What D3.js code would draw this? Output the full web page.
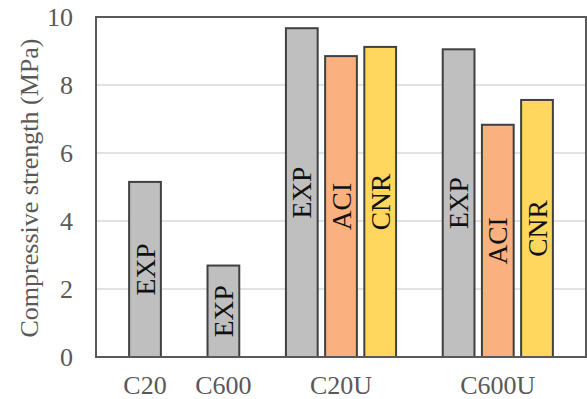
<!DOCTYPE html>
<meta charset="utf-8">
<style>
    body { margin: 0; background: #fff; }
    text { font-family: "Liberation Serif", "DejaVu Serif", serif; }
    .grid line { stroke: #d9d9d9; stroke-width: 1.5; }
    .tick-label { fill: #595959; font-size: 26px; }
    .bar-label { fill: #111; font-size: 27.5px; }
</style>
<svg width="587" height="399"></svg>
<script src="https://d3js.org/d3.v7.min.js"></script>
<script>

    // values
    var categories = ["C20", "C600", "C20U", "C600U"],
        series = ["EXP", "ACI", "CNR"],
        expValues = [5.15, 2.69, 9.67, 9.05],
        aciValues = [null, null, 8.85, 6.83],
        cnrValues = [null, null, 9.12, 7.56],
        yTicks = [0, 2, 4, 6, 8, 10];

    var colors = { EXP: "#bfbfbf", ACI: "#fbb07f", CNR: "#ffd75e" };
    var valuesBySeries = { EXP: expValues, ACI: aciValues, CNR: cnrValues };

    // lay bars out in slots, one empty slot between categories
    var bars = [], groups = [], slot = 0;
    categories.forEach(function (c, i) {
        var first = slot;
        series.forEach(function (s) {
            var v = valuesBySeries[s][i];
            if (v == null) return;
            bars.push({ category: c, series: s, value: v, slot: slot });
            slot++;
        });
        groups.push({ category: c, center: (first + slot - 1) / 2 });
        slot++;
    });
    var lastSlot = slot - 2;

    var svg = d3.select("svg"),
        margin = { top: 17, right: 1, bottom: 42, left: 96 },
        width = +svg.attr("width") - margin.left - margin.right,
        height = +svg.attr("height") - margin.top - margin.bottom,
        g = svg.append("g").attr("transform", "translate(" + margin.left + "," + margin.top + ")");

    var x = d3.scaleLinear()
        .domain([-1.25, lastSlot + 1.25])
        .range([0, width]);

    var y = d3.scaleLinear()
        .domain([0, 10])
        .range([height, 0]);

    var bw = x(0.81) - x(0);

    // gridlines
    g.append("g")
        .attr("class", "grid")
        .selectAll("line")
        .data(yTicks.filter(function (d) { return d > 0 && d < 10; }))
        .join("line")
        .attr("x1", 0).attr("x2", width)
        .attr("y1", y).attr("y2", y);

    // y tick labels
    g.append("g")
        .selectAll("text")
        .data(yTicks)
        .join("text")
        .attr("class", "tick-label")
        .attr("x", -23)
        .attr("y", y)
        .attr("dy", "0.35em")
        .attr("text-anchor", "end")
        .text(function (d) { return d; });

    // category labels
    g.append("g")
        .selectAll("text")
        .data(groups)
        .join("text")
        .attr("class", "tick-label")
        .attr("x", function (d) { return x(d.center); })
        .attr("y", height + 37)
        .attr("text-anchor", "middle")
        .text(function (d) { return d.category; });

    // bars
    g.append("g")
        .selectAll("rect")
        .data(bars)
        .join("rect")
        .attr("x", function (d) { return x(d.slot) - bw / 2; })
        .attr("y", function (d) { return y(d.value); })
        .attr("width", bw)
        .attr("height", function (d) { return y(0) - y(d.value); })
        .attr("fill", function (d) { return colors[d.series]; })
        .attr("stroke", "#404040")
        .attr("stroke-width", 2);

    // labels inside bars
    g.append("g")
        .selectAll("text")
        .data(bars)
        .join("text")
        .attr("class", "bar-label")
        .attr("transform", function (d) {
            return "translate(" + x(d.slot) + "," + (y(d.value) + y(0)) / 2 + ") rotate(-90)";
        })
        .attr("text-anchor", "middle")
        .attr("dy", "0.35em")
        .text(function (d) { return d.series; });

    // plot frame
    g.append("rect")
        .attr("width", width)
        .attr("height", height)
        .attr("fill", "none")
        .attr("stroke", "#595959")
        .attr("stroke-width", 2);

    // y axis title
    svg.append("text")
        .attr("class", "tick-label")
        .attr("transform", "translate(38,188) rotate(-90)")
        .attr("text-anchor", "middle")
        .text("Compressive strength (MPa)");

</script>
